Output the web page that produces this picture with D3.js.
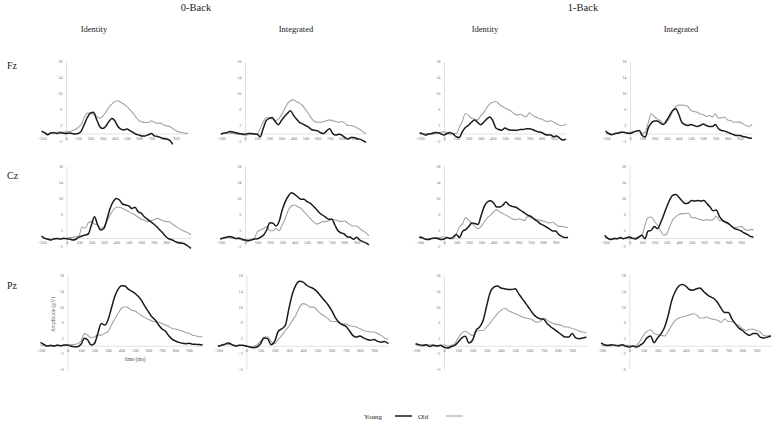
<!DOCTYPE html>
<html><head><meta charset="utf-8">
<script src="https://cdn.jsdelivr.net/npm/d3@7"></script>
<style>body{margin:0;background:#fff}svg{display:block}</style>
</head><body><svg id="c" width="775" height="423"></svg>
<script>
// ---------- DATA ----------
const times = [-200,-175,-150,-125,-100,-75,-50,-25,0,25,50,75,100,125,150,175,200,225,250,275,300,325,350,375,400,425,450,475,500,525,550,575,600,625,650,675,700,725,750,775,800,825,850,875,900,925,950,975,1000];
const loads = ["0-Back","1-Back"];
const conditions = ["Identity","Integrated"];
const sites = ["Fz","Cz","Pz"];
const groups = ["Young","Old"];
const yTicksFC = [-2,2,6,10,14,18];
const yTicksP = [-6,-2,2,6,10,14,18];
const xTicks = [-200,0,100,200,300,400,500,600,700,800,900];

const fz_id0_young = [0.6,0.2,-0.3,0.1, 0.2,0.0,0.2,0.1, 0.0,0.1,0.0,-0.1, 0.0,0.6,2.3,4.0, 5.1,5.3,3.6,1.8, 1.25,1.75,2.9,3.75, 3.2,1.75,1.1,0.9, 1.1,0.7,0.25,-0.2, -0.4,-0.6,-0.6,-0.3, 0.0,-0.6,-0.75,-1.0, -1.25,-1.4,-1.7,-2.7, null,null,null,null, null];
const fz_id0_old = [0.4,0.2,0.0,0.1, 0.25,0.3,0.4,0.3, 0.4,0.5,0.7,1.0, 1.5,2.3,4.0,5.1, 5.1,4.8,4.25,3.8, 4.25,5.25,6.5,7.3, 8.0,8.2,7.75,7.3, 6.7,5.9,5.1,4.0, 3.2,2.9,2.75,2.75, 3.2,2.75,2.6,2.6, 2.1,1.9,1.75,1.25, 0.7,0.4,0.25,0.1, 0.0];
const fz_int0_young = [-0.2,0.1,0.2,0.5, 0.4,0.2,0.0,-0.1, -0.2,0.0,0.0,-0.1, -0.2,-0.8,1.2,3.2, 3.8,4.0,3.0,2.2, 3.2,4.2,5.0,5.7, 4.6,3.6,2.8,2.4, 2.0,1.6,1.0,0.8, 0.65,0.2,0.0,0.65, 1.2,0.0,-0.4,-0.2, -0.4,-1.0,-1.4,-1.0, -1.0,-1.3,-1.4,-1.8, -2.2];
const fz_int0_old = [0.0,0.2,0.25,0.1, 0.0,-0.1,-0.2,-0.3, -0.4,-0.3,-0.2,-0.1, -0.1,1.2,2.8,4.0, 3.8,3.6,3.2,3.6, 4.6,6.0,7.4,8.2, 8.4,8.0,7.6,7.0, 6.0,5.0,3.8,3.0, 2.8,2.8,3.0,3.2, 3.4,3.2,3.0,2.8, 3.0,2.6,2.0,2.0, 1.8,1.4,1.0,0.4, 0.0];
const fz_id1_young = [0.2,-0.1,-0.4,-0.1, 0.0,0.25,0.2,-0.1, -0.4,0.0,0.25,-0.1, -0.8,-1.0,0.4,1.5, 2.0,2.8,3.4,2.8, 2.2,2.8,3.6,4.1, 3.2,1.4,1.0,0.8, 1.4,1.0,0.8,0.8, 0.8,1.0,1.0,1.2, 1.2,1.0,0.65,0.4, 0.25,-0.2,-0.4,-0.4, -0.8,-0.6,-1.2,-1.6, -1.4];
const fz_id1_old = [-0.2,0.0,0.0,-0.1, -0.2,0.0,0.2,0.3, 0.4,0.1,-0.2,0.0, 0.0,1.5,3.0,5.0, 4.6,3.8,3.6,3.4, 4.4,5.2,6.4,7.4, 7.8,8.0,7.4,6.8, 6.4,6.0,5.6,5.0, 4.6,4.8,4.4,4.2, 5.2,4.6,4.2,3.8, 3.6,3.2,3.0,3.2, 2.8,2.4,2.0,2.0, 2.4];
const fz_int1_young = [0.6,0.0,-0.3,0.0, 0.1,0.3,0.3,0.1, 0.0,0.3,0.6,0.75, -0.5,-0.9,1.4,2.6, 3.1,3.1,2.6,2.25, 3.25,4.5,5.75,6.2, 4.75,2.8,2.25,2.0, 2.25,2.0,1.75,2.0, 2.4,2.0,1.75,1.75, 2.25,1.2,0.75,0.6, 0.3,0.0,-0.3,-0.5, -0.5,-0.75,-0.9,-1.1, -1.2];
const fz_int1_old = [0.0,-0.1,-0.2,-0.1, 0.0,0.2,0.3,0.2, 0.3,0.4,0.6,0.75, 0.0,0.3,2.8,4.9, 4.2,3.6,3.25,2.4, 2.8,3.9,5.5,6.75, 7.1,7.1,7.0,6.75, 5.75,5.5,5.3,4.9, 4.75,4.25,4.5,4.1, 4.9,3.9,3.9,4.1, 3.4,3.25,2.8,2.8, 2.9,2.4,2.0,1.75, 2.25];

const cz_id0_young = [0.5,-0.1,-0.3,-0.5, -0.2,-0.1,-0.25,-0.1, -0.2,-0.25,-0.5,-0.3, 0.2,0.5,0.75,1.0, 3.25,5.3,3.25,2.0, 2.4,4.7,7.4,9.1, 9.9,9.5,8.5,8.25, 8.0,7.4,7.7,6.6, 6.2,5.3,4.7,4.1, 3.5,2.8,2.0,1.2, 0.3,-0.25,-0.5,-0.9, -1.2,-1.3,-1.5,-2.0, -2.6];
const cz_id0_old = [0.15,0.0,-0.2,-0.3, -0.3,-0.2,-0.15,0.0, 0.0,0.1,0.15,0.3, 0.5,2.8,2.4,3.8, 4.1,3.5,3.25,2.4, 2.8,4.1,5.75,7.0, 7.7,7.7,7.4,7.0, 6.6,6.2,5.75,5.2, 4.7,4.5,4.1,4.3, 4.5,4.9,4.7,4.3, 4.1,4.1,3.5,3.0, 2.4,2.0,1.6,1.3, 0.75];
const cz_int0_young = [-0.25,0.0,0.2,0.4, 0.2,-0.1,0.0,-0.3, -0.5,-0.6,-0.5,-0.25, -0.2,0.2,0.75,2.0, 3.8,3.7,3.0,4.1, 7.0,9.1,10.5,11.3, 10.9,10.3,9.7,9.7, 9.1,8.7,8.0,7.2, 6.3,5.75,5.2,4.7, 4.7,3.25,1.8,1.3, 1.0,0.3,0.2,-0.3, 0.2,-0.5,-0.9,-1.2, -1.75];
const cz_int0_old = [-0.2,0.0,0.0,0.1, 0.0,-0.2,-0.3,-0.5, -0.7,-0.9,-0.5,-0.1, 1.6,2.0,2.4,2.8, 1.8,1.8,2.4,1.8, 3.25,4.9,7.0,8.0, 8.25,7.8,7.4,6.6, 5.75,4.9,4.1,3.5, 3.7,4.1,4.1,4.3, 4.7,4.5,4.3,4.1, 4.3,3.8,3.25,3.0, 3.0,2.4,1.8,1.3, 0.5];
const cz_id1_young = [0.25,0.1,-0.3,-0.4, -0.15,0.0,-0.15,-0.4, -0.25,0.1,-0.15,0.25, 0.9,0.1,1.7,2.1, 2.9,3.75,3.6,3.4, 5.7,7.9,9.0,9.3, 8.75,7.75,7.75,8.2, 9.0,8.2,7.9,7.75, 7.3,6.75,6.25,5.7, 5.4,4.8,4.25,3.6, 3.2,2.75,2.3,1.75, 1.75,0.9,0.4,0.1, 0.1];
const cz_id1_old = [0.0,-0.1,-0.25,-0.2, -0.1,0.0,0.1,0.2, 0.25,0.1,0.0,-0.25, 1.1,2.75,3.6,5.1, 4.4,3.6,2.9,2.3, 2.9,4.0,5.1,5.7, 6.5,7.1,6.5,6.1, 5.7,5.25,4.8,4.6, 4.8,4.6,4.4,5.4, 5.1,4.8,4.6,4.4, 4.25,4.0,3.75,4.0, 3.4,2.9,2.9,2.75, 2.6];
const cz_int1_young = [0.7,-0.1,-0.4,-0.1, -0.2,0.1,-0.2,0.1, 0.25,-0.1,-0.25,0.25, 0.7,-0.2,1.75,1.9, 2.9,2.3,3.75,5.7, 7.75,9.6,10.7,10.9, 10.1,9.25,8.6,8.75, 9.4,9.25,9.4,9.25, 9.4,8.6,7.75,6.8, 7.0,5.4,4.4,4.0, 3.6,2.9,2.3,2.1, 1.75,1.25,0.9,0.4, 0.25];
const cz_int1_old = [0.1,-0.1,-0.25,-0.2, -0.25,-0.1,-0.1,-0.15, -0.2,0.0,0.1,0.3, 0.7,3.2,5.1,5.25, 4.25,3.2,1.9,0.7, 1.0,2.9,4.6,5.4, 5.9,6.1,6.1,6.25, 5.1,5.1,4.8,4.6, 4.4,4.6,4.4,4.6, 5.4,4.4,4.25,3.75, 3.4,2.9,2.6,2.75, 2.9,2.3,1.9,2.1, 2.1];

const pz_id0_young = [0.85,0.35,-0.1,0.1, -0.1,0.15,0.0,0.15, 0.15,-0.1,-0.25,-0.25, 0.35,1.9,1.45,0.15, 0.6,3.2,5.7,5.3, 6.6,9.6,12.6,14.5, 15.4,15.3,14.5,14.0, 13.4,12.6,11.5,10.0, 8.7,7.4,6.6,5.3, 4.3,3.75,2.55,1.7, 1.2,0.85,0.6,0.5, 0.6,0.4,0.35,0.3, 0.15];
const pz_id0_old = [0.15,0.1,0.0,-0.05, -0.1,0.0,0.1,0.1, 0.15,0.2,0.35,0.5, 1.2,3.1,2.7,2.05, 2.3,2.7,2.7,3.2, 3.6,5.3,6.8,8.3, 9.6,10.0,9.75,9.1, 8.9,8.3,7.7,7.2, 6.8,6.3,6.15,6.0, 5.7,5.3,4.9,4.4, 4.3,4.0,3.75,3.4, 3.2,2.7,2.55,2.3, 2.3];
const pz_int0_young = [-0.15,0.1,0.4,0.7, 0.25,-0.1,0.1,0.1, -0.1,-0.35,-0.5,-0.35, 0.5,2.0,1.8,0.25, 1.1,3.7,4.35,5.2, 9.5,13.3,15.6,16.5, 16.3,15.5,15.0,14.6, 13.8,12.7,11.6,10.5, 9.1,7.35,6.1,5.4, 5.0,3.9,2.65,2.2, 2.5,2.0,1.6,1.4, 1.6,1.1,0.9,1.1, 0.5];
const pz_int0_old = [0.0,0.1,0.25,0.3, 0.25,0.1,0.1,0.0, -0.1,-0.3,-0.15,0.25, 1.1,2.2,2.3,1.1, 0.5,1.6,2.65,3.9, 5.0,6.5,7.9,9.9, 10.8,10.5,9.9,9.9, 9.05,8.2,7.6,6.9, 6.2,6.2,6.1,5.6, 5.6,5.2,5.0,4.8, 4.35,3.9,3.7,3.5, 3.5,3.1,2.65,2.0, 1.6];
const pz_id1_young = [0.5,0.25,0.1,0.25, -0.2,0.1,-0.1,0.1, -0.4,-0.6,-0.25,0.1, 0.95,2.0,2.4,0.7, 1.4,3.9,4.8,6.5, 10.3,13.75,15.0,15.3, 14.8,14.6,14.4,14.4, 14.6,13.3,12.0,10.8, 9.5,8.2,7.35,6.9, 6.75,5.6,4.8,4.2, 3.5,2.8,2.2,2.2, 3.1,2.0,1.8,2.0, 2.2];
const pz_id1_old = [0.25,0.1,-0.1,0.1, 0.25,0.2,0.1,0.0, 0.25,-0.1,0.1,0.5, 2.0,3.3,3.7,3.1, 2.65,3.5,3.9,3.9, 4.8,5.9,7.1,8.2, 9.05,9.6,9.05,8.6, 8.2,7.8,7.35,7.1, 6.9,6.5,6.0,6.2, 7.1,6.5,6.0,5.6, 5.4,5.2,4.8,4.8, 4.35,4.2,3.7,3.5, 3.3];
const pz_int1_young = [0.75,0.25,0.1,0.25, 0.1,-0.1,0.25,-0.15, -0.35,-0.1,-0.35,0.1, 0.75,2.0,2.5,0.75, 2.0,3.1,4.8,7.8, 11.6,13.9,15.3,15.7, 15.3,14.4,14.2,14.6, 14.8,13.9,13.1,12.5, 12.05,11.0,9.5,8.5, 8.5,6.9,5.6,4.5, 3.9,3.1,2.65,3.1, 3.1,2.2,2.0,2.2, 2.5];
const pz_int1_old = [0.1,0.0,-0.1,0.0, 0.1,0.2,0.25,0.1, 0.1,-0.1,0.1,1.1, 2.65,3.7,4.1,3.1, 2.8,2.65,2.5,3.7, 5.2,6.5,7.1,7.35, 7.6,7.9,8.2,7.9, 7.1,7.1,7.35,6.9, 6.75,6.5,6.0,6.9, 6.2,6.2,5.6,5.2, 4.35,3.9,4.2,4.2, 3.9,3.5,2.65,2.5, 2.65];

// panels: [site][column] -> [young, old]; columns = 0-Back Identity, 0-Back Integrated, 1-Back Identity, 1-Back Integrated
const panelData = {
  Fz: [[fz_id0_young, fz_id0_old],[fz_int0_young, fz_int0_old],[fz_id1_young, fz_id1_old],[fz_int1_young, fz_int1_old]],
  Cz: [[cz_id0_young, cz_id0_old],[cz_int0_young, cz_int0_old],[cz_id1_young, cz_id1_old],[cz_int1_young, cz_int1_old]],
  Pz: [[pz_id0_young, pz_id0_old],[pz_int0_young, pz_int0_old],[pz_id1_young, pz_id1_old],[pz_int1_young, pz_int1_old]]
};

// ---------- LAYOUT ----------
const rowGeo = {
  Fz: {zero:133.5, ppu:4.0, dom:[-2,18], ticks:yTicksFC, x0:[66,245,444,630], k:[0.122,0.121,0.122,0.122], labelY:69},
  Cz: {zero:238,   ppu:4.0, dom:[-2,18], ticks:yTicksFC, x0:[66.5,245,444,629.5], k:[0.1245,0.124,0.124,0.124], labelY:179},
  Pz: {zero:345.7, ppu:3.9, dom:[-6,18], ticks:yTicksP,  x0:[67.5,246.3,444,629.3], k:[0.135,0.142,0.1425,0.1415], labelY:289}
};
const colTitleX = [94, 296, 485, 681];
const loadTitleX = [196, 583];
const colors = {Young:"#1a1a1a", Old:"#a3a3a3"};
const widths = {Young:1.5, Old:1.1};
const serif = "'Liberation Serif','Times New Roman',serif";

const svg = d3.select("#c");

// titles
loads.forEach((l,i)=>svg.append("text").attr("x",loadTitleX[i]).attr("y",11)
  .attr("text-anchor","middle").attr("font-family",serif).attr("font-size",10.5).attr("fill","#222").text(l));
[0,1,2,3].forEach(c=>svg.append("text").attr("x",colTitleX[c]).attr("y",32)
  .attr("text-anchor","middle").attr("font-family",serif).attr("font-size",8.5).attr("fill","#222")
  .text(conditions[c%2]));

sites.forEach(site=>{
  const g = rowGeo[site];
  svg.append("text").attr("x",7).attr("y",g.labelY).attr("font-family",serif)
    .attr("font-size",10).attr("fill","#222").text(site);
  for(let c=0;c<4;c++){
    const x = d3.scaleLinear().domain([-200,1000]).range([g.x0[c]-200*g.k[c], g.x0[c]+1000*g.k[c]]);
    const y = d3.scaleLinear().domain(g.dom).range([g.zero-g.dom[0]*g.ppu, g.zero-g.dom[1]*g.ppu]);
    const p = svg.append("g");
    const ay = p.append("g").attr("transform",`translate(${x(0)},0)`)
      .call(d3.axisLeft(y).tickValues(g.ticks).tickSize(0).tickPadding(3.5));
    const ax = p.append("g").attr("transform",`translate(0,${y(0)})`)
      .call(d3.axisBottom(x).tickValues(xTicks).tickSize(0).tickPadding(3));
    [ay,ax].forEach(a=>{
      a.select(".domain").attr("stroke","#d9d9d9").attr("stroke-width",0.8);
      a.selectAll("text").attr("font-family",serif).attr("font-size",4.3).attr("fill","#777");
    });
    const [young, old] = panelData[site][c];
    [["Old",old],["Young",young]].forEach(([grp,vals])=>{
      const line = d3.line().defined(d=>d[1]!=null)
        .x(d=>x(d[0])).y(d=>y(d[1])).curve(d3.curveMonotoneX);
      p.append("path").datum(times.map((t,i)=>[t,vals[i]]))
        .attr("d",line).attr("fill","none").attr("stroke",colors[grp])
        .attr("stroke-width",widths[grp]).attr("stroke-linejoin","round");
    });
    if(site==="Pz" && c===0){
      p.append("text").attr("transform",`translate(${x(0)-13},${y(8)}) rotate(-90)`)
        .attr("text-anchor","middle").attr("font-family",serif).attr("font-size",5.5)
        .attr("fill","#555").text("Amplitude (µV)");
      p.append("text").attr("x",x(500)).attr("y",y(0)+15.5)
        .attr("text-anchor","middle").attr("font-family",serif).attr("font-size",5.5)
        .attr("fill","#555").text("time (ms)");
    }
  }
});

// legend
const lg = svg.append("g");
lg.append("text").attr("x",373).attr("y",418.5).attr("text-anchor","middle")
  .attr("font-family",serif).attr("font-size",6.8).attr("fill","#222").text(groups[0]);
lg.append("line").attr("x1",395).attr("x2",412).attr("y1",416).attr("y2",416)
  .attr("stroke",colors.Young).attr("stroke-width",1.5);
lg.append("text").attr("x",423).attr("y",418.5).attr("text-anchor","middle")
  .attr("font-family",serif).attr("font-size",6.8).attr("fill","#222").text(groups[1]);
lg.append("line").attr("x1",446).attr("x2",463).attr("y1",416).attr("y2",416)
  .attr("stroke",colors.Old).attr("stroke-width",1.1);
</script></body></html>
